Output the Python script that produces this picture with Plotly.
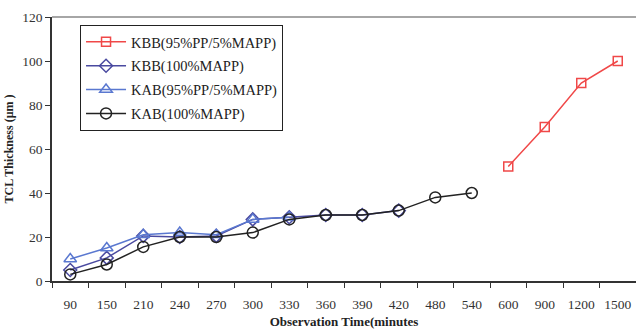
import plotly.graph_objects as go

categories = ["90", "150", "210", "240", "270", "300", "330", "360", "390", "420", "480", "540", "600", "900", "1200", "1500"]

kbb_pp_x = ["600", "900", "1200", "1500"]
kbb_pp_y = [52, 70, 90, 100]

kbb_mapp_x = ["90", "150", "210", "240", "270", "300", "330", "360", "390", "420"]
kbb_mapp_y = [5, 10.5, 20.5, 20, 20.5, 28, 29, 30, 30, 32]

kab_pp_x = ["90", "150", "210", "240", "270", "300", "330"]
kab_pp_y = [10, 15, 21, 22, 21, 28, 29]

kab_mapp_x = ["90", "150", "210", "240", "270", "300", "330", "360", "390", "420", "480", "540"]
kab_mapp_y = [3, 7.5, 15.5, 20, 20, 22, 28, 30, 30, 32, 38, 40]

FONT = "Liberation Serif"

fig = go.Figure()
series = [
    ("KBB(95%PP/5%MAPP)", kbb_pp_x, kbb_pp_y, "#f04848", "square-open", 9),
    ("KBB(100%MAPP)", kbb_mapp_x, kbb_mapp_y, "#4a4aa0", "diamond-open", 10),
    ("KAB(95%PP/5%MAPP)", kab_pp_x, kab_pp_y, "#5a78d0", "triangle-up-open", 11),
    ("KAB(100%MAPP)", kab_mapp_x, kab_mapp_y, "#222222", "circle-open", 11),
]
for i, (name, xs, ys, col, sym, sz) in enumerate(series):
    fig.add_trace(go.Scatter(
        x=xs, y=ys, name=name, mode="lines+markers",
        line=dict(color=col, width=1.5),
        marker=dict(symbol=sym, size=sz, color=col, line=dict(color=col, width=1.5)),
        legendgroup="g%d" % i,
    ))

fig.update_layout(
    width=636, height=334,
    margin=dict(l=52, r=0, t=17, b=53),
    paper_bgcolor="white", plot_bgcolor="white",
    font=dict(family=FONT, size=13, color="#333333"),
    showlegend=True,
    legend=dict(
        x=0.048, y=0.97, xanchor="left", yanchor="top",
        bordercolor="#222222", borderwidth=1, bgcolor="white",
        font=dict(family=FONT, size=14.5, color="#222222"),
        tracegroupgap=2, itemwidth=40,
    ),
    xaxis=dict(
        type="category", categoryorder="array", categoryarray=categories,
        range=[-0.5, 15.5],
        showline=True, linecolor="#333333", linewidth=1.5,
        ticks="outside", tickson="boundaries", ticklen=5, tickcolor="#333333",
        ticklabelstandoff=10,
        showgrid=False, zeroline=False,
        tickfont=dict(family=FONT, size=13.5, color="#333333"),
        title=dict(text="<b>Observation Time(minutes</b>", standoff=6,
                   font=dict(family=FONT, size=13, color="#222222")),
    ),
    yaxis=dict(
        range=[0, 120], dtick=20,
        showline=True, linecolor="#333333", linewidth=1.5,
        ticks="outside", ticklen=5, tickcolor="#333333",
        showgrid=False, zeroline=False,
        tickfont=dict(family=FONT, size=13.5, color="#333333"),
        title=dict(text="<b>TCL Thickness (μm )</b>", standoff=6,
                   font=dict(family=FONT, size=12, color="#222222")),
    ),
    shapes=[dict(type="line", xref="paper", yref="paper", x0=0, x1=1, y0=1, y1=1,
                 line=dict(color="#888888", width=1.5))],
)

fig.write_html("out.html")
